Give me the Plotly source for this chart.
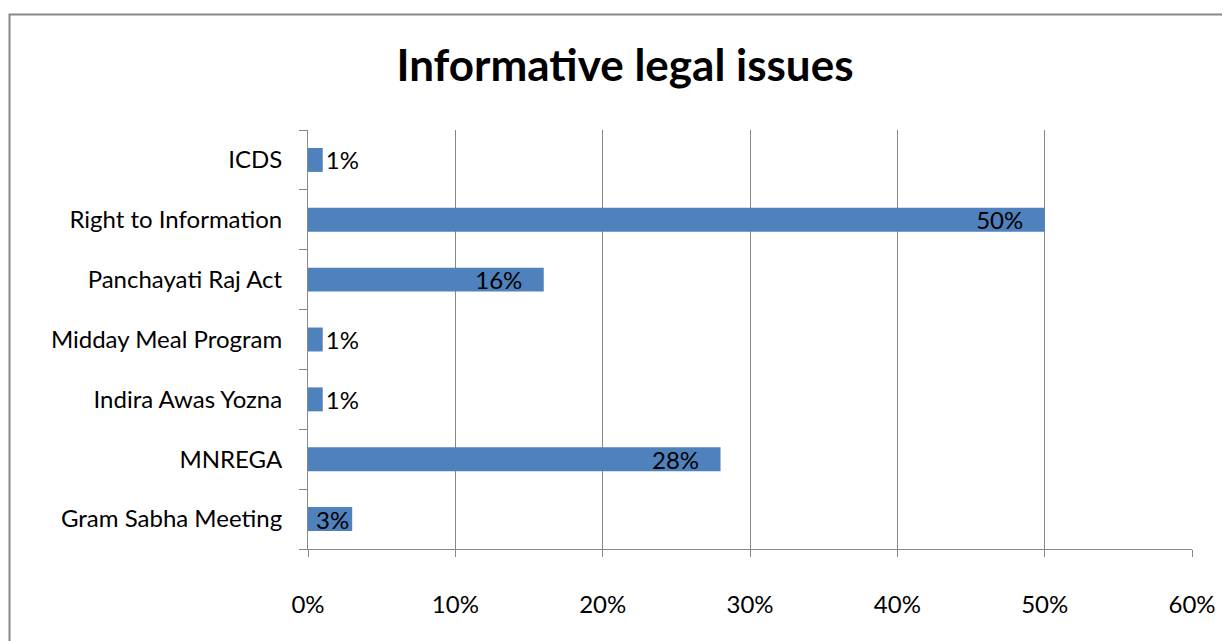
import plotly.graph_objects as go

categories = ["Gram Sabha Meeting", "MNREGA", "Indira Awas Yozna", "Midday Meal Program",
              "Panchayati Raj Act", "Right to Information", "ICDS"]
values = [3, 28, 1, 1, 16, 50, 1]
labels = ["3%", "28%", "1%", "1%", "16%", "50%", "1%"]
tick_vals = [0, 10, 20, 30, 40, 50, 60]
tick_text = ["0%", "10%", "20%", "30%", "40%", "50%", "60%"]

FONT = "Lato"
GRID = "#878787"
FS = 24

text_pos = ["inside" if v >= 3 else "outside" for v in values]
shown = [lab + ("\u00a0" * 3 if v >= 10 else "") for lab, v in zip(labels, values)]

fig = go.Figure(go.Bar(
    y=categories, x=values, orientation="h",
    marker=dict(color="#4F81BD", line=dict(width=0)),
    text=shown, texttemplate="%{text}", textposition=text_pos, insidetextanchor="end",
    constraintext="none", cliponaxis=False,
    textfont=dict(family=FONT, size=FS, color="black"),
    insidetextfont=dict(family=FONT, size=FS, color="black"),
    outsidetextfont=dict(family=FONT, size=FS, color="black"),
))

L, T, PW, PH = 300, 122, 884, 419
fig.update_layout(
    width=1222, height=633,
    margin=dict(l=L, r=1222 - L - PW, t=T, b=633 - T - PH),
    paper_bgcolor="white", plot_bgcolor="white",
    bargap=0.6, showlegend=False,
    title=dict(text="<b>Informative legal issues</b>", x=617 / 1222, xanchor="center",
               y=1 - 58 / 633, yanchor="middle",
               font=dict(family=FONT, size=44, color="black")),
    font=dict(family=FONT, size=FS, color="black"),
    shapes=[dict(type="rect", xref="paper", yref="paper",
                 x0=(1.5 - L) / PW, x1=(1240 - L) / PW,
                 y0=-0.5, y1=1 + (T - 6.5) / PH,
                 line=dict(color="#888888", width=2), fillcolor="rgba(0,0,0,0)", layer="below")],
)

fig.update_xaxes(range=[0, 60], tickvals=tick_vals, ticktext=tick_text,
                 showgrid=True, gridcolor=GRID, gridwidth=1,
                 showline=True, linecolor=GRID, linewidth=1,
                 ticks="outside", ticklen=7, tickcolor=GRID,
                 ticklabelstandoff=27, zeroline=False,
                 tickfont=dict(family=FONT, size=FS, color="black"))
fig.update_yaxes(categoryorder="array", categoryarray=categories,
                 showline=True, linecolor=GRID, linewidth=1,
                 ticks="outside", ticklen=8, tickcolor=GRID, tickson="boundaries",
                 ticklabelstandoff=20, showgrid=False,
                 tickfont=dict(family=FONT, size=FS, color="black"))

fig.write_html("out.html")
